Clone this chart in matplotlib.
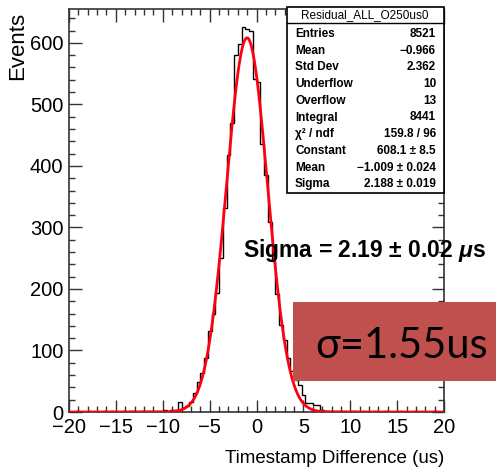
import numpy as np
import matplotlib
matplotlib.use('Agg')
import matplotlib.pyplot as plt
import matplotlib.patches as patches
from matplotlib.ticker import MultipleLocator

# histogram of timestamp residuals, 100 bins of 0.4 us from -20 to 20
bin_lo, bin_hi, n_bins = -20.0, 20.0, 100
counts = [
    0, 0, 1, 0, 0, 1, 0, 0, 0, 1, 0, 1, 0, 0, 1, 0, 1, 1, 0, 1,
    2, 1, 1, 2, 2, 3, 2, 3, 4, 17, 6, 9, 16, 31, 49, 64, 87, 131, 159, 193,
    251, 331, 418, 469, 580, 598, 625, 623, 620, 542, 537, 436, 385, 309, 245, 192, 141, 117, 88, 66,
    52, 44, 28, 15, 15, 12, 12, 3, 2, 2, 1, 2, 1, 1, 0, 1, 1, 0, 1, 0,
    0, 1, 0, 0, 1, 0, 0, 0, 1, 0, 0, 0, 1, 0, 0, 0, 0, 1, 0, 0,
]

# gaussian fit result
fit_const, fit_mean, fit_sigma = 608.1, -1.009, 2.188

stat_labels = ["Entries", "Mean", "Std Dev", "Underflow", "Overflow", "Integral",
               "\u03c7\u00b2 / ndf", "Constant", "Mean", "Sigma"]
stat_values = ["8521", "\u22120.966", "2.362", "10", "13", "8441",
               "159.8 / 96", "608.1 \u00b1 8.5", "\u22121.009 \u00b1 0.024", "2.188 \u00b1 0.019"]
hist_name = "Residual_ALL_O250us0"

W, H = 496, 474
plt.rcParams['font.family'] = ['Liberation Sans', 'DejaVu Sans']
plt.rcParams['mathtext.fontset'] = 'custom'
plt.rcParams['mathtext.it'] = 'Liberation Sans:italic:bold'
plt.rcParams['mathtext.rm'] = 'Liberation Sans:bold'


def fx(px):
    return px / W


def fy(py):
    return 1 - py / H


fig = plt.figure(figsize=(W / 100, H / 100), dpi=100)
ax = fig.add_axes([fx(69), fy(412), fx(444) - fx(69), fy(9) - fy(412)])

edges = np.linspace(bin_lo, bin_hi, n_bins + 1)
ax.stairs(counts, edges, color='black', lw=1.0, zorder=2)

xs = np.linspace(bin_lo, bin_hi, 800)
ax.plot(xs, fit_const * np.exp(-0.5 * ((xs - fit_mean) / fit_sigma) ** 2),
        color='#ff0010', lw=2.0, zorder=3)

ax.set_xlim(bin_lo, bin_hi)
ax.set_ylim(0, 655)
ax.xaxis.set_major_locator(MultipleLocator(5))
ax.xaxis.set_minor_locator(MultipleLocator(1))
ax.yaxis.set_major_locator(MultipleLocator(100))
ax.yaxis.set_minor_locator(MultipleLocator(20))
ax.tick_params(which='both', direction='in', top=True, right=True, width=1.0, color='#333333')
ax.tick_params(which='major', length=9)
ax.tick_params(which='minor', length=4.5)
ax.tick_params(axis='x', which='major', labelsize=14.5, pad=4)
ax.tick_params(axis='y', which='major', labelsize=14.5, pad=4)
for s in ax.spines.values():
    s.set_linewidth(1.2)
    s.set_color('#333333')

ax.set_xlabel("Timestamp Difference (us)", fontsize=13.5, loc='right', labelpad=10)
fig.text(fx(18), fy(46), "Events", rotation=90, ha='center', va='center', fontsize=16)

# stats box
box = patches.Rectangle((fx(287), fy(193)), fx(444) - fx(287), fy(7) - fy(193),
                        transform=fig.transFigure, facecolor='white', edgecolor='black',
                        lw=1.2, zorder=5)
fig.add_artist(box)
fig.add_artist(plt.Line2D([fx(287), fx(444)], [fy(23), fy(23)], transform=fig.transFigure,
                          color='black', lw=1.0, zorder=6))
fig.text(fx(365), fy(15), hist_name, ha='center', va='center', fontsize=8.5, zorder=7)
for i, (lab, val) in enumerate(zip(stat_labels, stat_values)):
    yy = fy(34 + i * 16.7)
    fig.text(fx(295), yy, lab, ha='left', va='center', fontsize=8.5, weight='bold', zorder=7)
    fig.text(fx(436), yy, val, ha='right', va='center', fontsize=8.5, weight='bold', zorder=7)

fig.text(fx(243), fy(257), "Sigma = 2.19 \u00b1 0.02 $\\mu$s", ha='left', va='baseline',
         fontsize=16.5, weight='bold', zorder=7)

# red label box
red = patches.Rectangle((fx(293), fy(381)), fx(496) - fx(293), fy(302) - fy(381),
                        transform=fig.transFigure, facecolor='#c0504d', edgecolor='none', zorder=8)
fig.add_artist(red)
fig.text(fx(315), fy(358), "\u03c3=1.55us", ha='left', va='baseline', fontsize=30,
         family=['Lato', 'DejaVu Sans'], color='black', zorder=9)

fig.savefig('out.png', dpi=100)
